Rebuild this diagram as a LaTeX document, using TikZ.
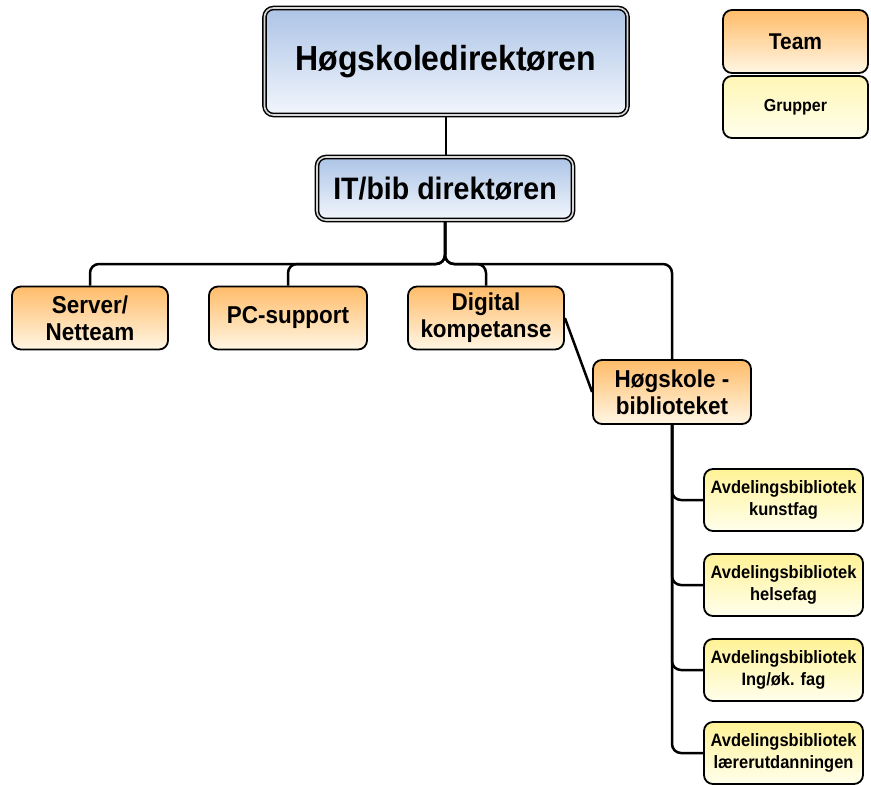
\documentclass[tikz,border=0pt]{standalone}
\usepackage{fontspec}
\setmainfont[FakeStretch=0.92]{Liberation Sans}
\pgfdeclarelayer{background}
\pgfsetlayers{background,main}
\definecolor{bluetop}{RGB}{172,196,230}
\definecolor{bluebot}{RGB}{242,246,252}
\definecolor{orangetop}{RGB}{255,188,105}
\definecolor{orangebot}{RGB}{255,246,228}
\definecolor{yellowtop}{RGB}{255,242,150}
\definecolor{yellowbot}{RGB}{255,255,236}
\definecolor{gapcol}{RGB}{215,215,215}
\tikzset{
  box/.style={draw=black, line width=1.8pt, rounded corners=9pt, inner sep=0pt, align=center, font=\bfseries},
  bluebox/.style={box, top color=bluetop, bottom color=bluebot, double=gapcol, double distance=1.6pt, line width=1.5pt},
  orangebox/.style={box, top color=orangetop, bottom color=orangebot, minimum width=156pt, minimum height=63pt, font=\bfseries\fontsize{24.4}{27}\selectfont},
  yellowbox/.style={box, top color=yellowtop, bottom color=yellowbot, minimum width=159pt, minimum height=62pt, font=\bfseries\fontsize{17.9}{22}\selectfont},
  conn/.style={draw=black, line width=2.5pt, rounded corners=9pt}
}
\begin{document}
\begin{tikzpicture}[x=1pt, y=-1pt]
\useasboundingbox (0,0) rectangle (871,785);
% main boxes
\node[bluebox, minimum width=363pt, minimum height=107pt, font=\bfseries\fontsize{34.8}{38}\selectfont] (hd) at (446,61.5) {Høgskoledirektøren};
\node[bluebox, minimum width=256pt, minimum height=63pt, font=\bfseries\fontsize{31}{34}\selectfont] (it) at (445,188.5) {IT/bib direktøren};
% level 2
\node[orangebox] (server) at (90,318) {Server/\\Netteam};
\node[orangebox, minimum width=158pt] (pc) at (288,318) {PC-support};
\node[orangebox] (dig) at (486,318) {Digital\\kompetanse};
\node[orangebox, minimum width=158pt, minimum height=64pt] (hs) at (672,392) {Høgskole -\\biblioteket};
% level 3
\node[yellowbox] (avd1) at (783.5,500) {Avdelingsbibliotek\\kunstfag};
\node[yellowbox] (avd2) at (783.5,585) {Avdelingsbibliotek\\helsefag};
\node[yellowbox] (avd3) at (783.5,670) {Avdelingsbibliotek\\Ing/øk. fag};
\node[yellowbox] (avd4) at (783.5,753) {Avdelingsbibliotek\\lærerutdanningen};
% legend
\node[box, top color=orangetop, bottom color=orangebot, minimum width=145pt, minimum height=63pt, font=\bfseries\fontsize{22.8}{26}\selectfont] (team) at (795.5,41.5) {Team};
\node[box, top color=yellowtop!70!white, bottom color=yellowbot, minimum width=145pt, minimum height=62pt, font=\bfseries\fontsize{17.4}{21}\selectfont] (grupper) at (795.5,107) {Grupper};
% connectors
\coordinate (bar) at (0,264);
\begin{pgfonlayer}{background}
\fill[white] (0,0) rectangle (871,785);
\draw[conn] (hd.south) -- (hd.south |- it.north);
\draw[conn] (it.south) -- (it.south |- bar) -| (server.north);
\draw[conn] (it.south) -- (it.south |- bar) -| (pc.north);
\draw[conn] (it.south) -- (it.south |- bar) -| (dig.north);
\draw[conn] (it.south) -- (it.south |- bar) -| (hs.north);
\draw[conn] (dig.east) -- (hs.west);
\draw[conn] (hs.south) |- (avd1.west);
\draw[conn] (hs.south) |- (avd2.west);
\draw[conn] (hs.south) |- (avd3.west);
\draw[conn] (hs.south) |- (avd4.west);
\end{pgfonlayer}
\end{tikzpicture}
\end{document}
